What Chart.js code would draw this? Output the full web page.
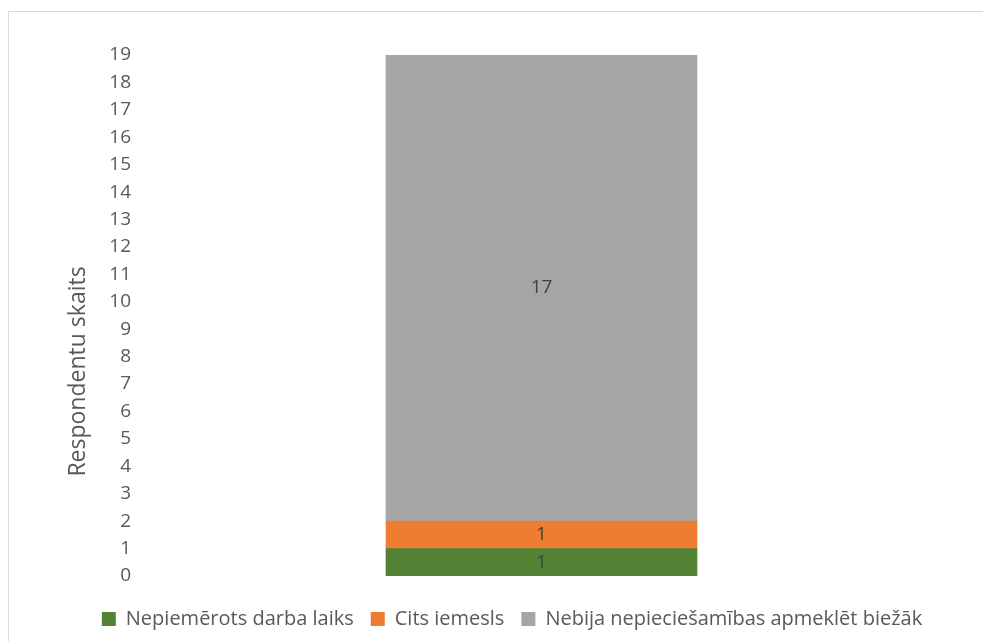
<!DOCTYPE html>
<html>
<head>
<meta charset="utf-8">
<script src="https://cdn.jsdelivr.net/npm/chart.js@4/dist/chart.umd.min.js"></script>
<style>
  body { margin: 0; background: #fff; }
  #wrap { position: relative; width: 983px; height: 641px; overflow: hidden; }
  #frame { position: absolute; left: 8px; top: 11px; width: 1200px; height: 900px; border: 1.5px solid #d9d9d9; }
  #myChart { position: absolute; left: 0; top: 0; }
</style>
</head>
<body>
<div id="wrap">
  <div id="frame"></div>
  <canvas id="myChart" width="983" height="641"></canvas>
</div>
<script>
// data
var categories = [''];
var seriesNames = ['Nepiemērots darba laiks', 'Cits iemesls', 'Nebija nepieciešamības apmeklēt biežāk'];
var nepiemerots = [1];
var cits = [1];
var nebija = [17];
var yMax = 19;
var yTitle = 'Respondentu skaits';

var font = "'Open Sans', 'Liberation Sans', sans-serif";
var textColor = '#595959';

// draws the value in the middle of each bar segment
var segmentLabels = {
    id: 'segmentLabels',
    afterDatasetsDraw: function(chart) {
        var ctx = chart.ctx;
        ctx.save();
        ctx.font = '19px ' + font;
        ctx.fillStyle = '#404040';
        ctx.textAlign = 'center';
        ctx.textBaseline = 'middle';
        chart.data.datasets.forEach(function(ds, i) {
            chart.getDatasetMeta(i).data.forEach(function(el, j) {
                ctx.fillText(ds.data[j], el.x, (el.y + el.base) / 2);
            });
        });
        ctx.restore();
    }
};

// y axis title, placed a bit below the middle like in excel
var axisTitle = {
    id: 'axisTitle',
    afterDraw: function(chart) {
        var ctx = chart.ctx;
        var area = chart.chartArea;
        ctx.save();
        ctx.translate(78, (area.top + area.bottom) / 2 + 56);
        ctx.rotate(-Math.PI / 2);
        ctx.font = '23px ' + font;
        ctx.fillStyle = textColor;
        ctx.textAlign = 'center';
        ctx.textBaseline = 'middle';
        ctx.fillText(yTitle, 0, 0);
        ctx.restore();
    }
};

var ctx = document.getElementById('myChart').getContext('2d');
var myChart = new Chart(ctx, {
    type: 'bar',
    data: {
        labels: categories,
        datasets: [
            { label: seriesNames[0], data: nepiemerots, backgroundColor: '#548235' },
            { label: seriesNames[1], data: cits, backgroundColor: '#ed7d31' },
            { label: seriesNames[2], data: nebija, backgroundColor: '#a5a5a5' }
        ]
    },
    options: {
        responsive: false,
        animation: false,
        barThickness: 311,
        layout: { padding: { top: 55, left: 81, right: 40, bottom: 2 } },
        plugins: {
            legend: {
                position: 'bottom',
                labels: {
                    boxWidth: 14,
                    boxHeight: 14,
                    padding: 17,
                    color: textColor,
                    font: { family: font, size: 20 }
                }
            },
            tooltip: { enabled: false }
        },
        scales: {
            x: {
                stacked: true,
                grid: { display: false },
                border: { display: false },
                ticks: { display: false },
                afterFit: function(scale) { scale.height = 16; }
            },
            y: {
                stacked: true,
                min: 0,
                max: yMax,
                grid: { display: false },
                border: { display: false },
                afterFit: function(scale) { scale.width = 59; },
                ticks: { stepSize: 1, autoSkip: false, color: textColor, font: { family: font, size: 19 }, padding: 1 }
            }
        }
    },
    plugins: [segmentLabels, axisTitle]
});
</script>
</body>
</html>
